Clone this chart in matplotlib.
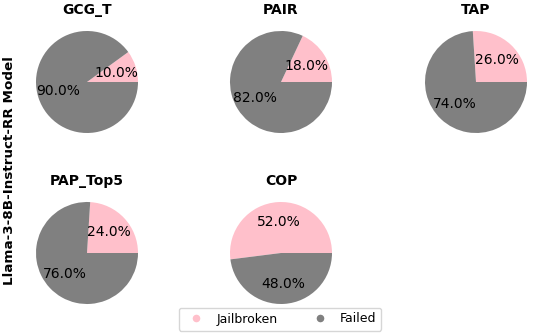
import matplotlib.pyplot as plt
from matplotlib.lines import Line2D

# attack methods and jailbreak rates (%)
methods = ['GCG_T', 'PAIR', 'TAP', 'PAP_Top5', 'COP']
jailbroken = [10.0, 18.0, 26.0, 24.0, 52.0]
failed = [90.0, 82.0, 74.0, 76.0, 48.0]
labels = ['Jailbroken', 'Failed']
colors = ['pink', 'gray']
model_name = 'Llama-3-8B-Instruct-RR Model'

W, H = 555, 336
fig = plt.figure(figsize=(W / 100, H / 100), dpi=100)

r = 51  # pie radius in px
size = 2.5 * r
centers = [(87, 82), (281, 82), (476, 82), (87, 253), (281, 253)]

for (cx, cy), name, jb, fl in zip(centers, methods, jailbroken, failed):
    ax = fig.add_axes([(cx - size / 2) / W, (H - cy - size / 2) / H, size / W, size / H])
    ax.pie([jb, fl], colors=colors, startangle=0, autopct='%1.1f%%',
           textprops={'fontsize': 10, 'color': 'black'})
    ax.set_title(name, fontsize=10, fontweight='bold', pad=3)

fig.text(10 / W, 1 - 171 / H, model_name, rotation=90, fontsize=9.7,
         fontweight='bold', ha='center', va='center')

handles = [Line2D([0], [0], marker='o', color='w', markerfacecolor=c, markersize=6.5)
           for c in colors]
fig.legend(handles, labels, loc='center', bbox_to_anchor=(280 / W, 1 - 319 / H),
           ncol=2, fontsize=9, columnspacing=2.4, handletextpad=0.6)

fig.savefig('out.png', dpi=100)
